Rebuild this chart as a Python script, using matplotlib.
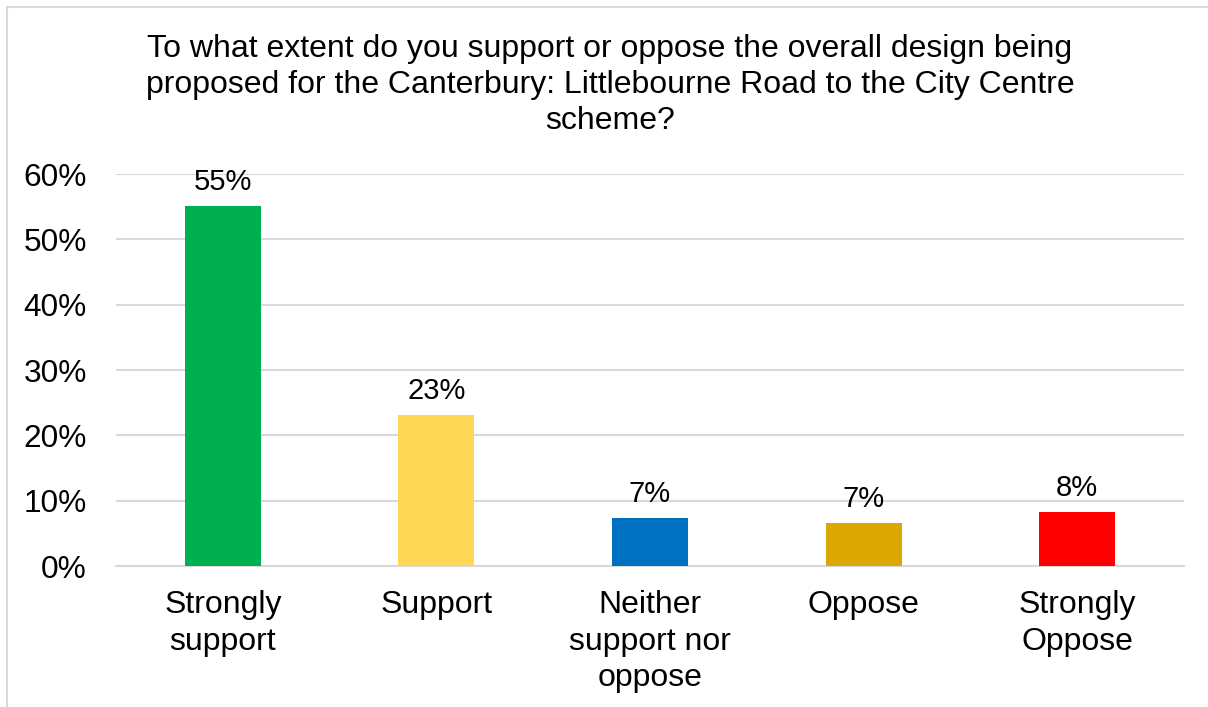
import matplotlib.pyplot as plt
from matplotlib.patches import Rectangle
from matplotlib.ticker import PercentFormatter

plt.rcParams["font.family"] = ["Liberation Sans", "DejaVu Sans"]

categories = ["Strongly\nsupport", "Support", "Neither\nsupport nor\noppose",
              "Oppose", "Strongly\nOppose"]
shares = [0.551, 0.231, 0.074, 0.066, 0.083]
colors = ["#00B050", "#FFD757", "#0070C0", "#DAA800", "#FF0000"]
title = ("To what extent do you support or oppose the overall design being\n"
         "proposed for the Canterbury: Littlebourne Road to the City Centre\n"
         "scheme?")

W, H = 1208, 707
fig = plt.figure(figsize=(W / 100, H / 100), dpi=100)
ax = fig.add_axes([116 / W, 1 - 566 / H, (1184 - 116) / W, (566 - 174) / H])

x = range(len(categories))
bars = ax.bar(x, shares, width=0.356, color=colors, zorder=3)
for bar, v in zip(bars, shares):
    ax.annotate(f"{v:.0%}", (bar.get_x() + bar.get_width() / 2, v),
                xytext=(0, 7), textcoords="offset points",
                ha="center", va="bottom", fontsize=21)

ax.set_xlim(-0.5, len(categories) - 0.5)
ax.set_ylim(0, 0.6)
ax.set_yticks([0, 0.1, 0.2, 0.3, 0.4, 0.5, 0.6])
ax.yaxis.set_major_formatter(PercentFormatter(1.0, decimals=0))
ax.set_xticks(list(x))
ax.set_xticklabels(categories, fontsize=23, linespacing=1.3)
ax.tick_params(axis="y", labelsize=22.8, length=0, pad=21)
ax.tick_params(axis="x", length=0, pad=17)
ax.grid(axis="y", color="#D9D9D9", linewidth=1.5, zorder=0)
for side in ("top", "right", "left"):
    ax.spines[side].set_visible(False)
ax.spines["bottom"].set_color("#D9D9D9")
ax.spines["bottom"].set_linewidth(1.5)

fig.text(610 / W, 1 - 34 / H, title, ha="center", va="top",
         fontsize=23, linespacing=1.27)

# outer chart border, cut off on the right and bottom
fig.patches.append(Rectangle((7 / W, -0.1), 1.2, 1.1 - 7 / H,
                             transform=fig.transFigure, fill=False,
                             edgecolor="#D9D9D9", linewidth=1.5))

fig.savefig("out.png", dpi=100)
